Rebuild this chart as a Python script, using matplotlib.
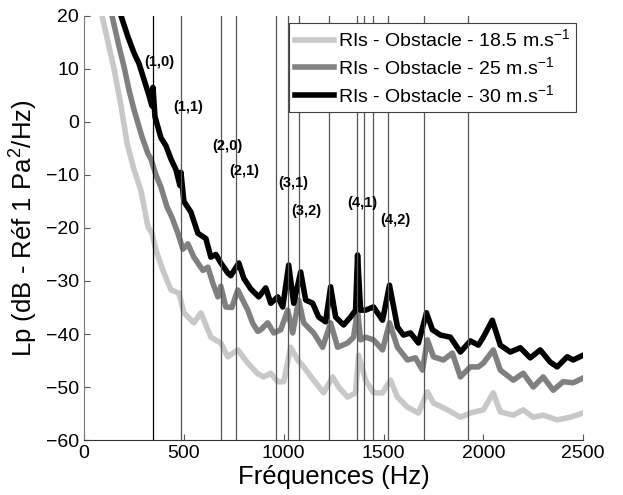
import matplotlib
matplotlib.use("Agg")
import matplotlib.pyplot as plt

plt.rcParams['font.family'] = ['Liberation Sans', 'DejaVu Sans']
plt.rcParams['mathtext.default'] = 'regular'

# Spectres (Hz, dB)
freq_18 = [80, 90, 120, 150, 185, 215, 250, 285, 320, 340, 360, 395, 435, 475, 500, 550, 585,
           635, 685, 720, 770, 820, 870, 900, 935, 970, 1000, 1035, 1070, 1100, 1150, 1200,
           1245, 1275, 1320, 1360, 1375, 1410, 1450, 1495, 1535, 1570, 1620, 1675, 1720,
           1750, 1820, 1885, 1935, 2000, 2050, 2085, 2150, 2200, 2250, 2300, 2370, 2435, 2500]
lp_18 = [24, 20, 15, 10, 3, -4, -9, -13, -19.8, -21, -24.2, -28, -31.7, -32.3, -36, -37.9, -36,
         -40.6, -41.7, -44.3, -43, -45.5, -47.5, -48.1, -47.4, -49, -49, -42.5, -44.9, -46.2,
         -48.7, -51.1, -48.1, -50, -51.9, -51.1, -44, -48.7, -51.1, -51.1, -48.7, -51.9, -53.8,
         -54.9, -50.9, -53, -54.3, -55.7, -54.9, -54.3, -51.1, -54.7, -55.3, -54.3, -55.7,
         -55.3, -56.2, -55.7, -54.9]

freq_25 = [120, 140, 170, 200, 225, 250, 290, 320, 335, 360, 385, 415, 440, 470, 495, 520, 550,
           595, 620, 645, 670, 685, 710, 740, 770, 800, 820, 845, 870, 885, 920, 950, 985, 1020,
           1045, 1075, 1100, 1150, 1195, 1235, 1270, 1320, 1350, 1370, 1385, 1410, 1450, 1495,
           1530, 1570, 1620, 1660, 1695, 1720, 1750, 1800, 1845, 1885, 1935, 1975, 2000, 2050,
           2085, 2150, 2200, 2250, 2300, 2350, 2400, 2450, 2500]
lp_25 = [26, 20, 15, 10.4, 6, 2.3, -2.8, -6, -7, -10, -12.3, -16, -18, -21, -24, -23, -25.5,
         -28, -27.4, -30.4, -33, -31, -34.9, -35, -31.7, -34, -35.5, -38, -39.5, -39.2, -37.9,
         -39.8, -39.2, -35.5, -39.8, -33.6, -37.9, -39.8, -42.5, -37.9, -42.5, -41.7, -40.6,
         -35.5, -41.1, -40.6, -41.1, -43, -37.9, -42.5, -44.9, -44.5, -46.8, -41.1, -44.3,
         -44.9, -43.6, -48.1, -46.2, -46.2, -45.5, -43, -46.8, -48.7, -47.4, -50, -48.1, -50.6,
         -49, -49.2, -48.3]

freq_30 = [150, 185, 220, 250, 275, 300, 325, 340, 345, 355, 385, 410, 435, 460, 480, 485, 500,
           535, 570, 610, 635, 660, 685, 720, 735, 775, 800, 835, 875, 910, 935, 970, 995, 1025,
           1050, 1085, 1110, 1145, 1175, 1210, 1235, 1260, 1300, 1335, 1360, 1370, 1385, 1410,
           1450, 1495, 1530, 1570, 1600, 1635, 1675, 1715, 1745, 1785, 1835, 1885, 1935, 1975,
           2000, 2045, 2085, 2135, 2185, 2235, 2285, 2335, 2370, 2420, 2450, 2500]
lp_30 = [26, 20, 16, 13, 11, 8, 5, 3, 6.5, 1, -3, -4.5, -7, -9, -12, -9.5, -15, -17, -21, -22,
         -25.5, -25, -26.6, -28.5, -29, -26.6, -29.5, -31.5, -33, -31.3, -34.2, -33, -34.9, -27,
         -34.2, -28.3, -33.6, -34.2, -36.8, -37.7, -31.1, -36.8, -38.3, -36.8, -35.5, -25.1,
         -35.5, -35.5, -34.9, -37.4, -30.8, -38.7, -40.2, -39.8, -41.7, -36, -39.2, -40.2, -40.6,
         -43.4, -41.3, -42.1, -40.6, -37.4, -42.1, -43.4, -42.6, -44.5, -43, -45.3, -46.2, -44.3,
         -44.9, -44]

# Modes acoustiques
mode_freqs = [343, 485, 685, 760, 963, 1022, 1077, 1227, 1365, 1402, 1445, 1522, 1702, 1923]
mode_names = ['(1,0)', '(1,1)', '(2,0)', '(2,1)', '(3,1)', '(3,2)', '(4,1)', '(4,2)']
name_x = [375, 520, 720, 800, 1050, 1115, 1395, 1560]
name_y = [11.3, 2.8, -4.5, -9.2, -11.5, -16.8, -15.3, -18.5]

fig = plt.figure(figsize=(6.23, 4.95), dpi=100)
ax = fig.add_axes([0.135, 0.111, 0.801, 0.857])

ax.plot(freq_18, lp_18, color='#c8c8c8', lw=4, label='RIs - Obstacle - 18.5 m.s$^{-1}$')
ax.plot(freq_25, lp_25, color='#808080', lw=4, label='RIs - Obstacle - 25 m.s$^{-1}$')
ax.plot(freq_30, lp_30, color='black', lw=4, label='RIs - Obstacle - 30 m.s$^{-1}$')

for i, f in enumerate(mode_freqs):
    ax.axvline(f, color='black' if i == 0 else '#555555', lw=0.9, zorder=3)

for name, x, y in zip(mode_names, name_x, name_y):
    ax.text(x, y, name, fontsize=10.5, fontweight='bold', ha='center', va='center', zorder=4)

ax.set_xlim(0, 2500)
ax.set_ylim(-60, 20)
ax.set_xticks(range(0, 2501, 500))
ax.set_yticks(range(-60, 21, 10))
ax.tick_params(direction='in', length=4, labelsize=14, color='#555555')
ax.spines['top'].set_visible(False)
ax.spines['right'].set_visible(False)
ax.spines['left'].set_color('#777777')
ax.spines['bottom'].set_color('#333333')

ax.set_xlabel('Fréquences (Hz)', fontsize=18.5, labelpad=2)
ax.set_ylabel('Lp (dB - Réf 1 Pa$^{2}$/Hz)', fontsize=18.5, labelpad=4)

leg = ax.legend(loc='upper right', fontsize=14, fancybox=False, framealpha=1,
                edgecolor='#404040', handlelength=2.0, handletextpad=0.2,
                labelspacing=0.3, borderaxespad=0.35, borderpad=0.3)
leg.set_zorder(5)
leg.get_frame().set_linewidth(0.8)

fig.savefig('out.png', dpi=100)
